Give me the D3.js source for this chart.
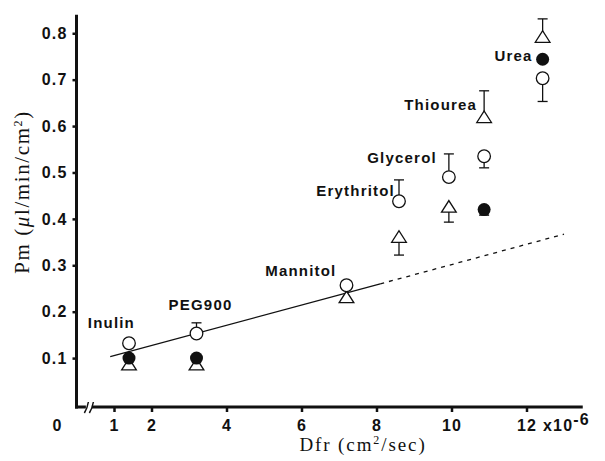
<!DOCTYPE html>
<html>
<head>
<meta charset="utf-8">
<script src="https://cdn.jsdelivr.net/npm/d3@7"></script>
<style>
  body { margin: 0; background: #fff; }
  svg { display: block; }
  .tick text, .unit { font-family: "Liberation Sans", Arial, sans-serif; font-weight: bold; font-size: 16px; letter-spacing: 1.2px; fill: #111; }
  .lab { font-family: "Liberation Sans", Arial, sans-serif; font-weight: bold; font-size: 15px; letter-spacing: 1.2px; fill: #111; }
  .title { font-family: "Liberation Serif", "Times New Roman", serif; fill: #111; }
</style>
</head>
<body>
<div id="chart"></div>
<script>
// solutes, diffusion coefficient (x1e-6 cm2/sec)
const solutes = ['Inulin', 'PEG900', 'Mannitol', 'Erythritol', 'Glycerol', 'Thiourea', 'Urea'];
const dfr = [1.4, 3.2, 7.2, 8.6, 9.93, 10.87, 12.43];

// Pm values for the three marker series (null = no point)
const pmOpen = [0.132, 0.153, 0.257, 0.438, 0.49, 0.535, 0.703];
const pmTri = [0.085, 0.085, 0.23, 0.36, 0.425, 0.618, 0.791];
const pmFilled = [0.10, 0.10, null, null, null, 0.42, 0.744];

// one-sided error bar end values
const errOpen = [null, 0.176, null, 0.484, 0.54, 0.51, 0.653];
const errTri = [null, null, null, 0.322, 0.393, 0.676, 0.831];
const errFilled = [null, null, null, null, null, 0.408, null];

// regression line: solid part then dashed extension
const fitX = [0.9, 8.1, 13.0];
const fitY = [0.103, 0.26, 0.367];

const xTicks = [1, 2, 4, 6, 8, 10, 12];
const yTicks = [0.1, 0.2, 0.3, 0.4, 0.5, 0.6, 0.7, 0.8];

const width = 605;
const height = 461;

const svg = d3.select('#chart').append('svg')
  .attr('width', width)
  .attr('height', height);

const x = d3.scaleLinear().domain([0, 13.5]).range([76.5, 582.75]);
const y = d3.scaleLinear().domain([0, 0.84]).range([404.5, 14.7]);
const axisY = 407;

// axes
svg.append('g')
  .attr('transform', `translate(${x(0)},0)`)
  .call(d3.axisLeft(y).tickValues(yTicks).tickFormat(d3.format('.1f')).tickSize(4).tickPadding(5))
  .call(g => g.select('.domain').remove())
  .call(g => g.selectAll('.tick line').attr('stroke', '#111').attr('stroke-width', 2.5));

svg.append('g')
  .attr('transform', `translate(0,${axisY})`)
  .call(d3.axisBottom(x).tickValues(xTicks).tickFormat(d3.format('d')).tickSize(5).tickPadding(8))
  .call(g => g.select('.domain').remove())
  .call(g => g.selectAll('.tick line').attr('stroke', '#111').attr('stroke-width', 2.5));

svg.append('line')
  .attr('x1', x(0)).attr('x2', x(0))
  .attr('y1', y(0.84)).attr('y2', axisY + 1.5)
  .attr('stroke', '#111').attr('stroke-width', 3);

svg.append('line')
  .attr('x1', x(0) - 1.5).attr('x2', x(13.5))
  .attr('y1', axisY).attr('y2', axisY)
  .attr('stroke', '#111').attr('stroke-width', 3);

// axis break
const bx = x(0.33);
svg.append('rect').attr('x', bx - 3).attr('y', axisY - 3).attr('width', 6).attr('height', 6).attr('fill', '#fff');
[-2.5, 2.5].forEach(o => {
  svg.append('path')
    .attr('d', `M${bx + o - 2},${axisY + 6} Q${bx + o + 1},${axisY + 1} ${bx + o + 2},${axisY - 5}`)
    .attr('fill', 'none').attr('stroke', '#111').attr('stroke-width', 1.5);
});

svg.append('text').attr('class', 'unit')
  .attr('x', x(0) - 19).attr('y', axisY + 24)
  .attr('text-anchor', 'middle')
  .text('0');

const unit = svg.append('text').attr('class', 'unit')
  .attr('x', 543).attr('y', axisY + 24);
unit.append('tspan').text('x10');
unit.append('tspan').attr('dy', -6).text('-6');

// axis titles
const xt = svg.append('text').attr('class', 'title')
  .attr('x', 363).attr('y', 451)
  .attr('text-anchor', 'middle')
  .style('font-size', '19px').style('letter-spacing', '1.9px');
xt.append('tspan').text('Dfr (cm');
xt.append('tspan').attr('dy', -7).style('font-size', '12px').text('2');
xt.append('tspan').attr('dy', 7).text('/sec)');

const yt = svg.append('text').attr('class', 'title')
  .attr('transform', 'translate(29,192) rotate(-90)')
  .attr('text-anchor', 'middle')
  .style('font-size', '21px').style('letter-spacing', '1.6px');
yt.append('tspan').text('Pm (');
yt.append('tspan').style('font-style', 'italic').text('\u03bc');
yt.append('tspan').text('l/min/cm');
yt.append('tspan').attr('dy', -7).style('font-size', '12px').text('2');
yt.append('tspan').attr('dy', 7).text(')');

// regression line
svg.append('line')
  .attr('x1', x(fitX[0])).attr('y1', y(fitY[0]))
  .attr('x2', x(fitX[1])).attr('y2', y(fitY[1]))
  .attr('stroke', '#111').attr('stroke-width', 1.3);
svg.append('line')
  .attr('x1', x(fitX[1])).attr('y1', y(fitY[1]))
  .attr('x2', x(fitX[2])).attr('y2', y(fitY[2]))
  .attr('stroke', '#111').attr('stroke-width', 1.3)
  .attr('stroke-dasharray', '4,5');

// error bars
function errorBars(vals, errs) {
  const d = dfr.map((v, i) => ({ x: v, y: vals[i], e: errs[i] })).filter(p => p.e != null);
  const g = svg.append('g').attr('stroke', '#111').attr('stroke-width', 1.3);
  g.selectAll('.stem').data(d).enter().append('line')
    .attr('x1', p => x(p.x)).attr('x2', p => x(p.x))
    .attr('y1', p => y(p.y)).attr('y2', p => y(p.e));
  g.selectAll('.cap').data(d).enter().append('line')
    .attr('x1', p => x(p.x) - 5).attr('x2', p => x(p.x) + 5)
    .attr('y1', p => y(p.e)).attr('y2', p => y(p.e));
}
errorBars(pmOpen, errOpen);
errorBars(pmTri, errTri);
errorBars(pmFilled, errFilled);

const pts = vals => dfr.map((v, i) => ({ x: v, y: vals[i] })).filter(p => p.y != null);

// triangles
svg.append('g').selectAll('path').data(pts(pmTri)).enter().append('path')
  .attr('d', d3.symbol().type(d3.symbolTriangle).size(85))
  .attr('transform', p => `translate(${x(p.x)},${y(p.y) + 1}) scale(1.05,0.95)`)
  .attr('fill', '#fff').attr('stroke', '#111').attr('stroke-width', 1.3);

// open circles
svg.append('g').selectAll('circle').data(pts(pmOpen)).enter().append('circle')
  .attr('cx', p => x(p.x)).attr('cy', p => y(p.y)).attr('r', 6.3)
  .attr('fill', '#fff').attr('stroke', '#111').attr('stroke-width', 1.3);

// filled circles
svg.append('g').selectAll('circle').data(pts(pmFilled)).enter().append('circle')
  .attr('cx', p => x(p.x)).attr('cy', p => y(p.y)).attr('r', 6.5)
  .attr('fill', '#111');

// solute labels, offset in pixels from the Dfr / Pm position
const labelPos = {
  Inulin: { at: 0.132, dx: 6, dy: -15 },
  PEG900: { at: 0.153, dx: 36, dy: -24 },
  Mannitol: { at: 0.257, dx: -10, dy: -9 },
  Erythritol: { at: 0.438, dx: -4, dy: -5 },
  Glycerol: { at: 0.49, dx: -12, dy: -14 },
  Thiourea: { at: 0.618, dx: -7, dy: -8 },
  Urea: { at: 0.744, dx: -10, dy: 2 },
};

svg.append('g').selectAll('text').data(solutes).enter().append('text')
  .attr('class', 'lab')
  .attr('text-anchor', 'end')
  .attr('x', (s, i) => x(dfr[i]) + labelPos[s].dx)
  .attr('y', s => y(labelPos[s].at) + labelPos[s].dy)
  .text(s => s);
</script>
</body>
</html>
